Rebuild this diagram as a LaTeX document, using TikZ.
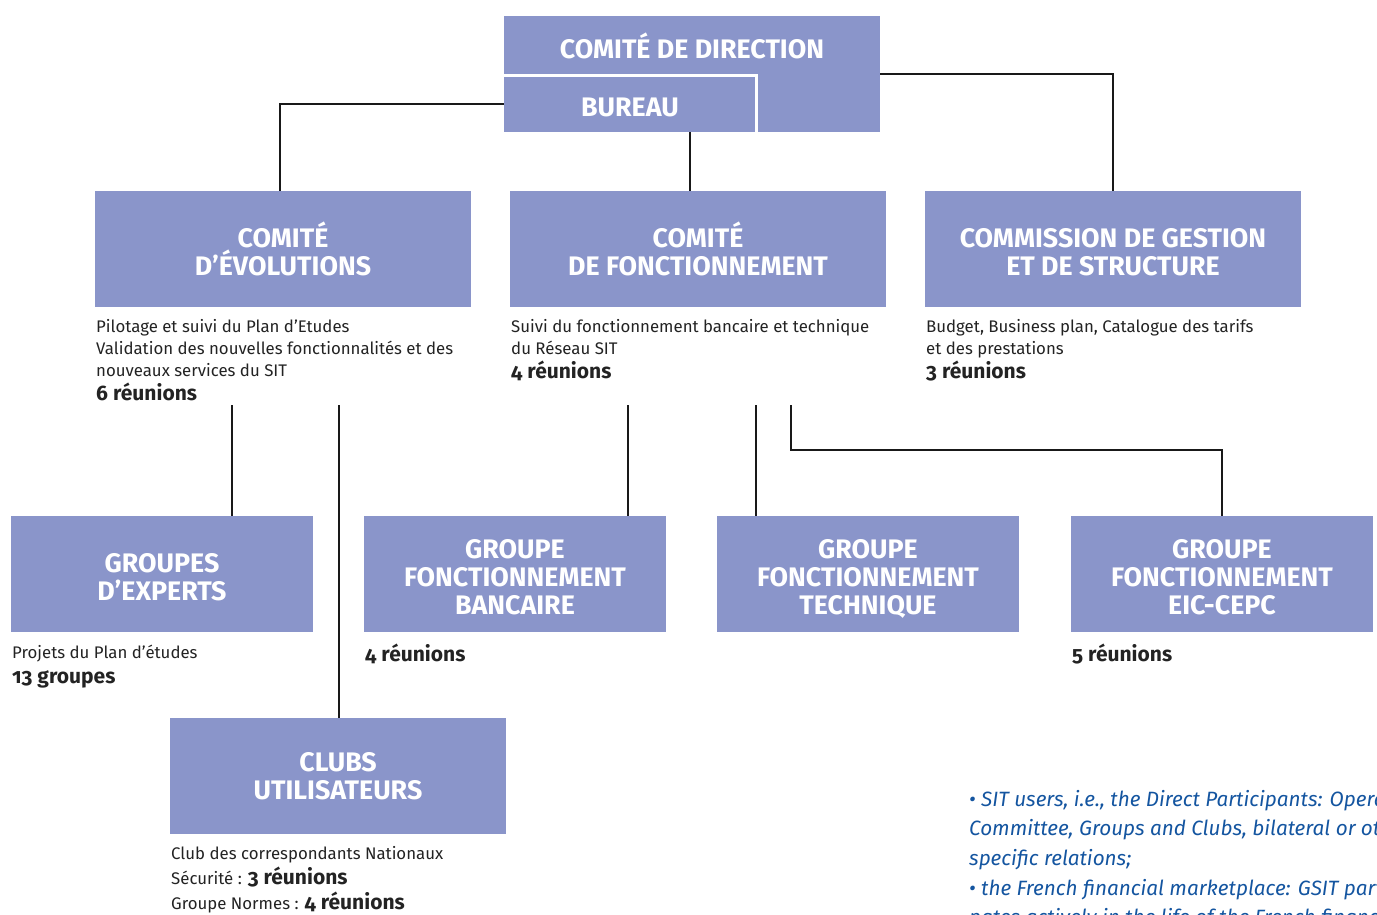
\documentclass[tikz,border=0pt]{standalone}
\usepackage{fontspec}
\setmainfont{Fira Sans}[Numbers=OldStyle]
\usetikzlibrary{calc}
\definecolor{boxblue}{RGB}{138,149,202}
\definecolor{txtblue}{RGB}{20,85,160}
\definecolor{txtgray}{RGB}{35,35,35}
\newcommand{\bnum}[1]{{\bfseries\fontsize{21}{24}\selectfont #1}}
\newcommand{\acc}{\vphantom{É}}
\tikzset{
  orgbox/.style={fill=boxblue, text=white, inner sep=0pt, minimum height=116pt, align=center,
    font=\bfseries\fontsize{26.8}{28}\selectfont},
  desc/.style={anchor=north west, inner sep=0pt, align=left, text=txtgray,
    font=\fontsize{16.8}{22}\selectfont},
  conn/.style={line width=2.5pt, draw=black!90},
  note/.style={anchor=north west, inner sep=0pt, align=left, text=txtblue,
    font=\itshape\fontsize{20.7}{29.6}\selectfont}
}
\begin{document}
\begin{tikzpicture}[x=1pt,y=-1pt]
\useasboundingbox (0,0) rectangle (1377,914);
% top
\node[orgbox, minimum width=376pt] (dir) at (692,74) {};
\node[text=white, font=\bfseries\fontsize{26.8}{28}\selectfont, inner sep=0pt] (dirtxt) at (692,46) {COMITÉ DE DIRECTION};
\node[orgbox, minimum width=252pt, minimum height=56pt] (bureau) at (630,104) {\acc BUREAU};
\draw[white, line width=3pt] (bureau.north west) -- (bureau.north east) -- (bureau.south east);
% row 2
\node[orgbox, minimum width=376pt] (evol) at (283,249) {COMITÉ\\D’ÉVOLUTIONS};
\node[orgbox, minimum width=376pt] (fonct) at (698,249) {COMITÉ\\DE FONCTIONNEMENT};
\node[orgbox, minimum width=376pt] (comm) at (1113,249) {\acc COMMISSION DE GESTION\\ET DE STRUCTURE};
% row 3
\node[orgbox, minimum width=302pt] (experts) at (162,574) {\acc GROUPES\\D’EXPERTS};
\node[orgbox, minimum width=302pt] (gfb) at (515,574) {\acc GROUPE\\FONCTIONNEMENT\\BANCAIRE};
\node[orgbox, minimum width=302pt] (gft) at (868,574) {\acc GROUPE\\FONCTIONNEMENT\\TECHNI\smash{Q}UE};
\node[orgbox, minimum width=302pt] (gfe) at (1222,574) {\acc GROUPE\\FONCTIONNEMENT\\EIC-CEPC};
\node[orgbox, minimum width=336pt] (clubs) at (338,776) {CLUBS\\UTILISATEURS};
% descriptions
\node[desc] (d1) at (96,319) {Pilotage et suivi du Plan d’Etudes\\Validation des nouvelles fonctionnalités et des\\nouveaux services du SIT\\[2pt]\bnum{6 réunions}};
\node[desc] (d2) at (511,319) {Suivi du fonctionnement bancaire et technique\\du Réseau SIT\\[2pt]\bnum{4 réunions}};
\node[desc] (d3) at (926,319) {Budget, Business plan, Catalogue des tarifs\\et des prestations\\[2pt]\bnum{3 réunions}};
\node[desc] (d4) at (12,645) {Projets du Plan d’études\\[3pt]\bnum{13 groupes}};
\node[desc] (d5) at (365,644) {\bnum{4 réunions}};
\node[desc] (d6) at (1072,644) {\bnum{5 réunions}};
\node[desc, font=\fontsize{16.8}{25}\selectfont] (d7) at (171,846) {Club des correspondants Nationaux\\Sécurité : \bnum{3 réunions}\\Groupe Normes : \bnum{4 réunions}};
% connector ends
\coordinate (e1) at (232,405);
\coordinate (e2) at (339,405);
\coordinate (e3) at (628,405);
\coordinate (e4) at (756,405);
\coordinate (e5) at (791,405);
\coordinate (e6) at (791,450);
% connectors
\draw[conn] (bureau.west) -| ([xshift=-3pt]evol.north);
\draw[conn] (dir.east) -| (comm.north);
\draw[conn] ([xshift=60pt]bureau.south) -- ([xshift=60pt]bureau.south |- fonct.north);
\draw[conn] (e1) -- (e1 |- experts.north);
\draw[conn] (e2) -- (e2 |- clubs.north);
\draw[conn] (e3) -- (e3 |- gfb.north);
\draw[conn] (e4) -- (e4 |- gft.north);
\draw[conn] (e5) -- (e6) -| (gfe.north);
% note text, clipped at page edge
\begin{scope}
\clip (900,770) rectangle (1377,914);
\node[note] (n1) at (969,790) {• SIT users, i.e., the Direct Participants: Operations\\Committee, Groups and Clubs, bilateral or other\\specific relations;\\• the French financial marketplace: GSIT partici-\\pates actively in the life of the French financial};
\end{scope}
\end{tikzpicture}
\end{document}
